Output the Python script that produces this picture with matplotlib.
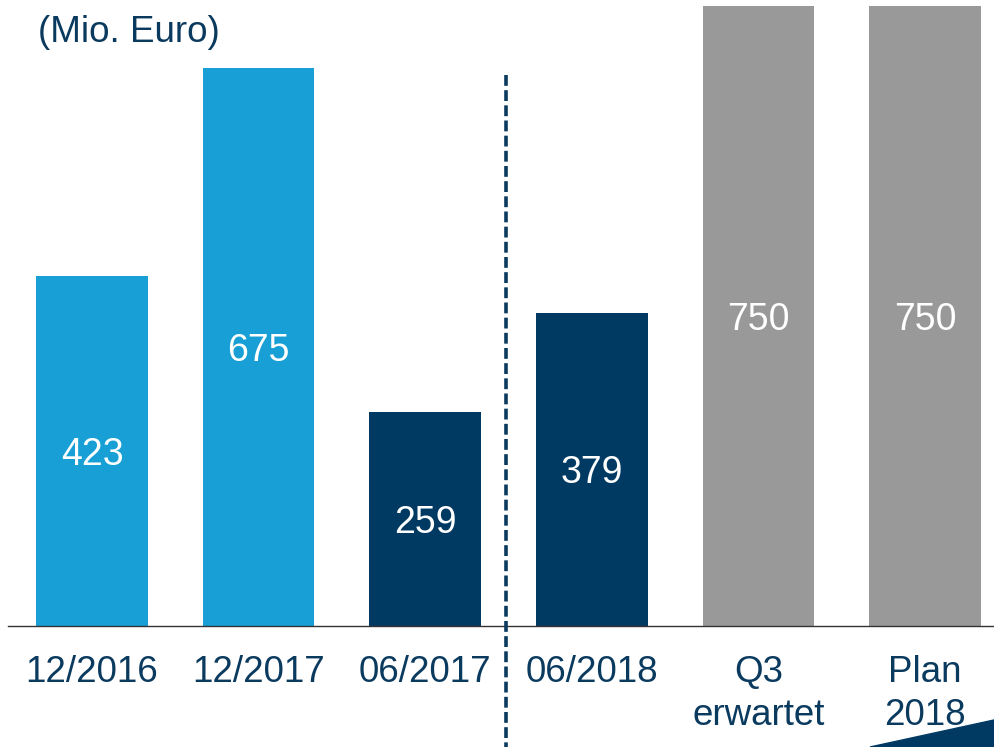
import matplotlib
matplotlib.use("Agg")
import matplotlib.pyplot as plt
from matplotlib.patches import Polygon
from matplotlib.transforms import ScaledTranslation

categories = ["12/2016", "12/2017", "06/2017", "06/2018", "Q3\nerwartet", "Plan\n2018"]
values = [423, 675, 259, 379, 750, 750]
colors = ["#179FD6", "#179FD6", "#003A63", "#003A63", "#999999", "#999999"]

NAVY = "#0B3A5F"
plt.rcParams['font.family'] = ['Liberation Sans', 'DejaVu Sans']

W, H = 994, 747
fig = plt.figure(figsize=(W / 100, H / 100), dpi=100)
ax = fig.add_axes([8 / W, 121 / H, (W - 8) / W, (H - 121) / H])

x = list(range(len(categories)))
ax.bar(x, values, width=0.67, color=colors, zorder=2)
ax.set_xlim(-0.504, 5.414)
ax.set_ylim(0, 757)

shift = ax.transData + ScaledTranslation(0, -4 / 100, fig.dpi_scale_trans)
for xi, v in zip(x, values):
    ax.text(xi, v / 2, str(v), ha="center", va="center", color="white",
            fontsize=27, transform=shift)

for s in ["left", "right", "top"]:
    ax.spines[s].set_visible(False)
ax.spines["bottom"].set_color("#333333")
ax.spines["bottom"].set_linewidth(1.0)
ax.set_yticks([])
ax.set_xticks(x)
ax.set_xticklabels(categories, fontsize=26.5, color=NAVY, linespacing=1.3, va="top")
ax.tick_params(axis="x", length=0, pad=21)

# dashed divider
ax.plot([2.485, 2.485], [666, -155], color=NAVY, lw=2.6, dashes=(3, 1.2),
        clip_on=False, zorder=3)

fig.text(38 / W, 1 - 32 / H, "(Mio. Euro)", fontsize=26.5, color=NAVY,
         ha="left", va="center")

tri = Polygon([[870 / W, 0], [1, 27 / H], [1, 0]], closed=True,
              transform=fig.transFigure, color="#003A63")
fig.patches.append(tri)

fig.savefig("out.png", dpi=100)
